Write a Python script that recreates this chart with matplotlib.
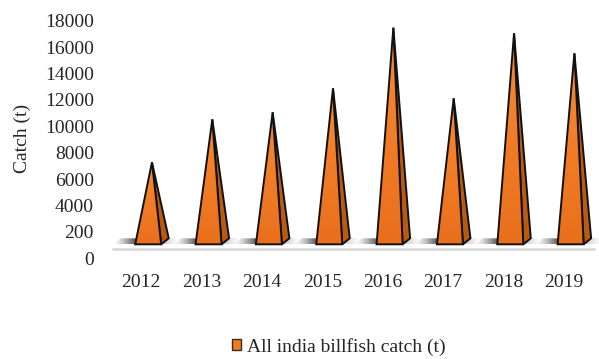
import numpy as np
import matplotlib
matplotlib.use("Agg")
import matplotlib.pyplot as plt
from matplotlib.patches import Polygon, Patch
from matplotlib.transforms import ScaledTranslation
from matplotlib.colors import to_rgb

# All-India billfish catch by year (tonnes)
years = ["2012", "2013", "2014", "2015", "2016", "2017", "2018", "2019"]
catch = [5990, 9240, 9770, 11590, 16180, 10830, 15760, 14240]

y_ticks = [0, 2000, 4000, 6000, 8000, 10000, 12000, 14000, 16000, 18000]
y_tick_labels = ["0", "200", "4000", "6000", "8000", "10000", "12000",
                 "14000", "16000", "18000"]
series_name = "All india billfish catch (t)"

plt.rcParams["font.family"] = ["Liberation Serif", "DejaVu Serif"]
FS = 14

W, H, DPI = 599, 359, 100
fig = plt.figure(figsize=(W / DPI, H / DPI), dpi=DPI)
ax = fig.add_axes([112 / W, (H - 258.3) / H, 487 / W, 237.6 / H])
ax.set_xlim(-0.6, 7.47)
ax.set_ylim(0, 18000)
for s in ax.spines.values():
    s.set_visible(False)

ax.set_yticks(y_ticks)
ax.set_yticklabels(y_tick_labels, fontsize=FS, color="#262626")
ax.set_xticks(range(len(years)))
ax.set_xticklabels(years, fontsize=FS, color="#262626")
ax.tick_params(axis="y", length=0, pad=13)
ax.tick_params(axis="x", length=0, pad=11)
for lab in ax.get_xticklabels():
    lab.set_transform(lab.get_transform() + ScaledTranslation(-7 / DPI, 0, fig.dpi_scale_trans))

fig.text(22 / W, 1 - 138 / H, "Catch (t)", rotation=90, ha="center", va="center",
         fontsize=FS, color="#262626")

# 3-D look: the floor sits a little above the value-axis origin
lift = ax.transData + ScaledTranslation(0, 14 / DPI, fig.dpi_scale_trans)

px_x = 487 / 8.07          # pixels per category
px_y = 237.6 / 18000       # pixels per unit of catch
half_w = 13 / px_x         # half the front-face width
depth_x = 7.5 / px_x       # depth offset of the base
depth_y = 6 / px_y

# floor line
ax.plot([0.0, 0.992], [0.039, 0.039], transform=ax.transAxes, color="#d6d6d6",
        lw=1.8, solid_capstyle="butt", zorder=1)

front_top = np.array(to_rgb("#f88a32"))
front_bot = np.array(to_rgb("#ea6f1c"))
grad = np.linspace(0, 1, 64)[:, None, None]
front_img = front_bot * (1 - grad) + front_top * grad
front_img = np.repeat(front_img, 2, axis=1)

for i, v in enumerate(catch):
    xl, xr = i - half_w, i + half_w
    apex = (i + depth_x / 2, v + depth_y / 2)

    # shadow to the left of the base
    sw = 22 / px_x
    sh = np.zeros((2, 40, 4))
    sh[..., 3] = np.linspace(0, 1.0, 40)[None, :] ** 1.3
    shadow_poly = Polygon([(xl - sw, 0), (xl + 0.02, 0), (xl + depth_x + 0.02, depth_y),
                           (xl - sw + depth_x, depth_y)], closed=True,
                          transform=lift, facecolor="none", edgecolor="none")
    ax.add_patch(shadow_poly)
    im = ax.imshow(sh, extent=(xl - sw, xl + depth_x + 0.02, 0, depth_y), origin="lower",
                   aspect="auto", interpolation="bilinear", zorder=2)
    im.set_transform(lift)
    im.set_clip_path(shadow_poly)

    # faint shadow to the right of the side face
    sh2 = np.zeros((2, 40, 4))
    sh2[..., 3] = np.linspace(0.4, 0, 40)[None, :] ** 1.5
    sw2 = 12 / px_x
    shadow2 = Polygon([(xr, 0), (xr + depth_x + sw2, 0), (xr + depth_x + sw2, depth_y),
                       (xr + depth_x, depth_y)], closed=True,
                      transform=lift, facecolor="none", edgecolor="none")
    ax.add_patch(shadow2)
    im2 = ax.imshow(sh2, extent=(xr, xr + depth_x + sw2, 0, depth_y), origin="lower",
                    aspect="auto", interpolation="bilinear", zorder=2)
    im2.set_transform(lift)
    im2.set_clip_path(shadow2)

    # side face
    side = Polygon([(xr, 0), (xr + depth_x, depth_y), apex], closed=True,
                   transform=lift, facecolor="#b85a14", edgecolor="#111111",
                   lw=1.4, joinstyle="miter", zorder=3)
    ax.add_patch(side)

    # front face with vertical gradient
    front = Polygon([(xl, 0), (xr, 0), apex], closed=True, transform=lift,
                    facecolor="none", edgecolor="none", zorder=4)
    ax.add_patch(front)
    imf = ax.imshow(front_img, extent=(xl, xr + depth_x, 0, apex[1]), origin="lower",
                    aspect="auto", interpolation="bilinear", zorder=4)
    imf.set_transform(lift)
    imf.set_clip_path(front)
    outline = Polygon([(xl, 0), (xr, 0), apex], closed=True, transform=lift,
                      facecolor="none", edgecolor="#111111", lw=1.4,
                      joinstyle="miter", zorder=5)
    ax.add_patch(outline)

ax.set_xlim(-0.6, 7.47)
ax.set_ylim(0, 18000)

handle = Patch(facecolor="#f07a22", edgecolor="#3a2a1a", lw=1.0)
fig.legend([handle], [series_name], loc="center",
           bbox_to_anchor=(339 / W, 1 - 346.7 / H), frameon=False, fontsize=FS,
           handlelength=0.48, handleheight=0.48, handletextpad=0.3,
           labelcolor="#262626")

fig.savefig("out.png", dpi=DPI)
